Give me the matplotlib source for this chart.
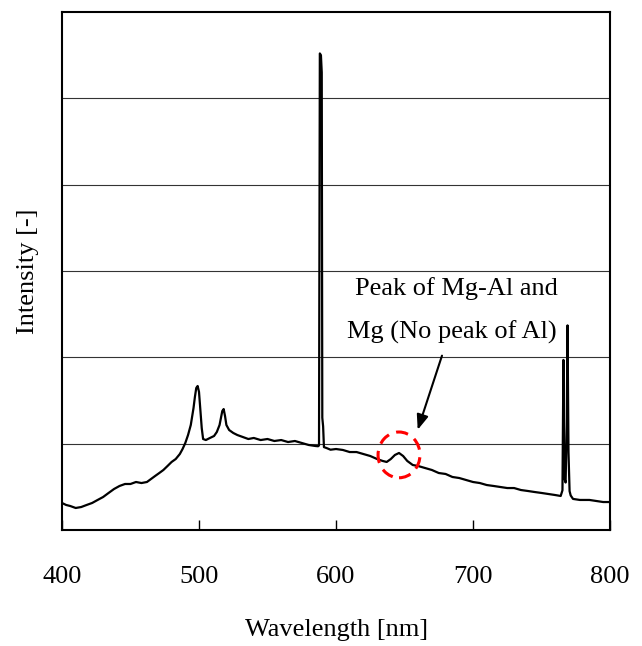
import matplotlib
matplotlib.use("Agg")
import matplotlib.pyplot as plt
from matplotlib.patches import Ellipse

wavelength = [400, 403, 406, 410, 414, 418, 422, 426, 430, 434, 438, 442, 446, 450, 454, 458,
              462, 465, 468, 471, 474, 477, 480, 483, 486, 488, 490, 492, 494, 496, 497, 498,
              499, 500, 501, 502, 503, 505, 508, 511, 513, 515, 516, 517, 518, 519, 520, 522,
              525, 528, 532, 536, 540, 545, 550, 555, 560, 565, 570, 575, 580, 585, 587,
              587.6, 588.2, 589.0, 589.6, 590.0, 590.6, 591.2, 593, 596,
              600, 605, 610, 615, 620, 625, 630, 634, 637, 640, 643, 646, 649, 652, 656,
              660, 665, 670, 675, 680, 685, 690, 695, 700, 705, 710, 715, 720, 725, 730,
              735, 740, 745, 750, 755, 760, 764, 765.3, 766.0, 766.7, 767.6, 768.4, 769.0,
              769.7, 770.5, 771.3, 773, 778, 785, 790, 795, 800]
intensity = [0.313, 0.29, 0.278, 0.255, 0.266, 0.29, 0.313, 0.348, 0.382, 0.429, 0.475, 0.51,
             0.533, 0.533, 0.556, 0.544, 0.556, 0.591, 0.626, 0.66, 0.695, 0.741, 0.788, 0.822,
             0.88, 0.938, 1.008, 1.10, 1.216, 1.413, 1.54, 1.645, 1.668, 1.60, 1.39, 1.18,
             1.054, 1.042, 1.066, 1.089, 1.135, 1.216, 1.297, 1.378, 1.401, 1.32, 1.216, 1.158,
             1.124, 1.10, 1.077, 1.054, 1.066, 1.042, 1.054, 1.031, 1.042, 1.019, 1.031, 1.008,
             0.985, 0.973, 0.97,
             0.98, 5.52, 5.50, 5.30, 1.30, 1.20, 0.96, 0.95, 0.93,
             0.938, 0.927, 0.903, 0.903, 0.88, 0.857, 0.822, 0.80, 0.788, 0.822, 0.869, 0.892,
             0.857, 0.80, 0.753,
             0.741, 0.718, 0.695, 0.66, 0.649, 0.614, 0.602, 0.579, 0.556, 0.544, 0.521, 0.51,
             0.498, 0.486, 0.486, 0.463, 0.452, 0.44, 0.429, 0.417, 0.405, 0.394, 0.46, 1.97,
             0.60, 0.55, 1.20, 2.37, 0.90, 0.45, 0.40, 0.36, 0.348, 0.348, 0.336, 0.324, 0.324]

xticks = [400, 500, 600, 700, 800]
grid_levels = [1, 2, 3, 4, 5]

plt.rcParams['font.family'] = ['Liberation Serif', 'DejaVu Serif']

fig = plt.figure(figsize=(6.42, 6.46), dpi=100)
ax = fig.add_axes([62/642, 1-530/646, (610-62)/642, (530-12)/646])

for g in grid_levels:
    ax.axhline(g, color='#333333', lw=0.8, zorder=1)

ax.plot(wavelength, intensity, color='black', lw=1.6, zorder=3)

ax.set_xlim(400, 800)
ax.set_ylim(0, 6)
ax.set_xticks(xticks)
ax.set_yticks([])
ax.tick_params(axis='x', direction='in', length=7, width=1, pad=26, labelsize=19)
for s in ax.spines.values():
    s.set_linewidth(1.5)

ell = Ellipse((646, 0.87), 30.6, 0.53, fill=False, edgecolor='red', lw=2.2,
              linestyle=(0, (4, 2.5)), zorder=4)
ax.add_patch(ell)

ax.annotate('', xy=(659, 1.13), xytext=(678, 2.05),
            arrowprops=dict(arrowstyle='-|>,head_length=0.9,head_width=0.35',
                            color='black', lw=1.5), zorder=5)

ax.text(687.6, 2.80, 'Peak of Mg-Al and', ha='center', va='center', fontsize=19)
ax.text(684.7, 2.29, 'Mg (No peak of Al)', ha='center', va='center', fontsize=19)

fig.text(28/642, 1-271/646, 'Intensity [-]', rotation=90, ha='center', va='center', fontsize=19)
fig.text(337/642, 1-630/646, 'Wavelength [nm]', ha='center', va='center', fontsize=19)

fig.savefig('out.png', dpi=100)
